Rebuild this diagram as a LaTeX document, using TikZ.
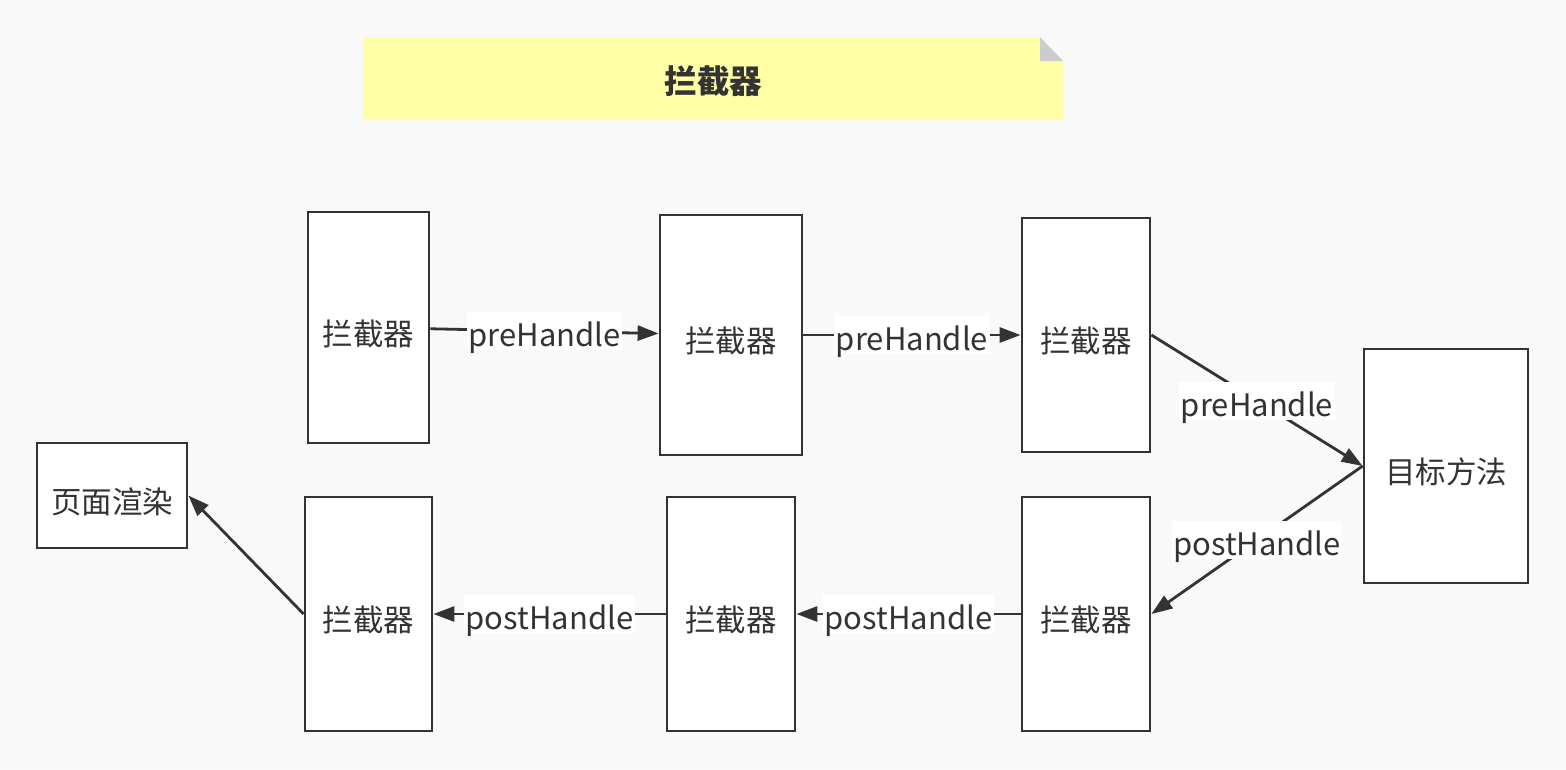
\documentclass[tikz,border=0pt]{standalone}
\usepackage{fontspec}
\setmainfont{Noto Sans CJK SC}
\usetikzlibrary{arrows.meta}
\definecolor{bgc}{HTML}{F9F9F9}
\definecolor{ink}{HTML}{333333}
\definecolor{notey}{HTML}{FFFFA6}
\definecolor{foldc}{HTML}{CCCCCC}
\begin{document}
\begin{tikzpicture}[x=1pt,y=-1pt,
  box/.style={draw=ink, line width=2.8pt, fill=white, text=ink, inner sep=0pt,
    text height=35pt, text depth=0pt,
    font=\fontsize{30.5}{33}\selectfont},
  conn/.style={draw=ink, line width=2.8pt, -{Triangle[length=21pt,width=15pt]}},
  lbl/.style={fill=white, text=ink, inner xsep=1.5pt, inner ysep=0.5pt,
    text height=34pt, text depth=3pt, font=\fontsize{31}{34}\selectfont}]
\fill[bgc] (0,0) rectangle (1566,769);
\useasboundingbox (0,0) rectangle (1566,769);
% note
\fill[notey] (363,37) -- (1040,37) -- (1063,61) -- (1063,119) -- (363,119) -- cycle;
\fill[foldc] (1040,37) -- (1040,61) -- (1063,61) -- cycle;
\node[text=ink, font=\fontsize{32.5}{35}\selectfont\bfseries] (title) at (713.5,81) {拦截器};
% boxes
\node[box, minimum width=121pt, minimum height=231pt] (b1) at (368.5,327.5) {拦截器};
\node[box, minimum width=142pt, minimum height=240pt] (b2) at (731,335) {拦截器};
\node[box, minimum width=128pt, minimum height=234pt] (b3) at (1086,335) {拦截器};
\node[box, minimum width=164pt, minimum height=234pt] (t) at (1446,466) {目标方法};
\node[box, minimum width=128pt, minimum height=234pt] (b4) at (1086,614) {拦截器};
\node[box, minimum width=128pt, minimum height=234pt] (b5) at (731,614) {拦截器};
\node[box, minimum width=127pt, minimum height=234pt] (b6) at (368.5,614) {拦截器};
\node[box, minimum width=150pt, minimum height=105pt] (p) at (112,495.5) {页面渲染};
% connectors
\draw[conn] (b1) -- node[lbl] (l1) {preHandle} (b2);
\draw[conn] (b2) -- node[lbl] (l2) {preHandle} (b3);
\draw[conn] (b3.east) -- node[lbl] (l3) {preHandle} (t.west);
\draw[conn] (t.west) -- node[lbl] (l4) {postHandle} (b4.east);
\draw[conn] (b4) -- node[lbl] (l5) {postHandle} (b5);
\draw[conn] (b5) -- node[lbl] (l6) {postHandle} (b6);
\draw[conn] (b6.west) -- (p.east);
\end{tikzpicture}
\end{document}
